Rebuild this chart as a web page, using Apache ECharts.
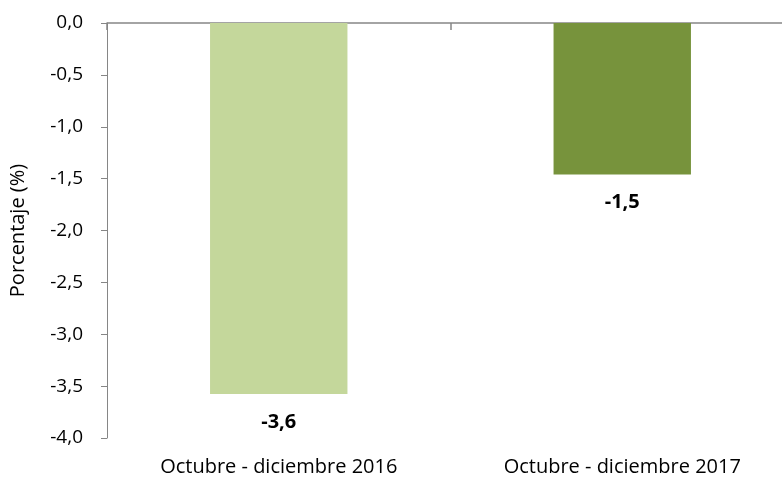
<!DOCTYPE html>
<html>
<head>
<meta charset="utf-8">
<script src="https://cdn.jsdelivr.net/npm/echarts@6/dist/echarts.min.js"></script>
<style>html,body{margin:0;padding:0;background:#fff}#c{width:782px;height:478px}</style>
</head>
<body>
<div id="c"></div>
<script>
const categories = ["Octubre - diciembre 2016", "Octubre - diciembre 2017"];
const values = [-3.575, -1.46];
const barColors = ["#C4D79B", "#77933C"];
const yTicks = { min: -4, max: 0, interval: 0.5 };
const yName = "Porcentaje (%)";

const FONT = "Open Sans";
const chart = echarts.init(document.getElementById('c'), null, { renderer: 'canvas' });
const fmt = v => v.toFixed(1).replace('.', ',');
chart.setOption({
  animation: false,
  textStyle: { fontFamily: FONT },
  grid: { left: 107, right: -12, top: 23, bottom: 40, containLabel: false, outerBoundsMode: 'none' },
  xAxis: [
    {
      type: 'category', data: categories, position: 'bottom',
      axisLine: { show: false, onZero: false }, axisTick: { show: false },
      axisLabel: { color: '#000', fontSize: 20, fontFamily: FONT, margin: 19 }
    },
    {
      type: 'category', data: categories, position: 'top',
      axisLine: { show: true, onZero: false, lineStyle: { color: '#868686', width: 1.5 } },
      axisTick: { show: true, inside: true, length: 7, lineStyle: { color: '#868686', width: 1.5 } },
      axisLabel: { show: false }
    }
  ],
  yAxis: {
    type: 'value', min: yTicks.min, max: yTicks.max, interval: yTicks.interval,
    name: yName, nameLocation: 'middle', nameGap: 79, nameRotate: 90,
    nameTextStyle: { color: '#000', fontSize: 20, fontFamily: FONT },
    axisLine: { show: true, onZero: false, lineStyle: { color: '#868686', width: 1 } },
    axisTick: { show: true, length: 6, lineStyle: { color: '#868686' } },
    splitLine: { show: false },
    axisLabel: { color: '#000', fontSize: 19, fontFamily: FONT, margin: 24, formatter: v => fmt(v) }
  },
  series: [{
    type: 'bar', xAxisIndex: 0,
    data: values.map((v, i) => ({ value: v, itemStyle: { color: barColors[i] } })),
    barWidth: '40%',
    label: {
      show: true, position: 'bottom', distance: 18,
      color: '#000', fontSize: 20, fontWeight: 'bold', fontFamily: FONT,
      formatter: p => fmt(p.value)
    }
  }]
});
</script>
</body>
</html>
